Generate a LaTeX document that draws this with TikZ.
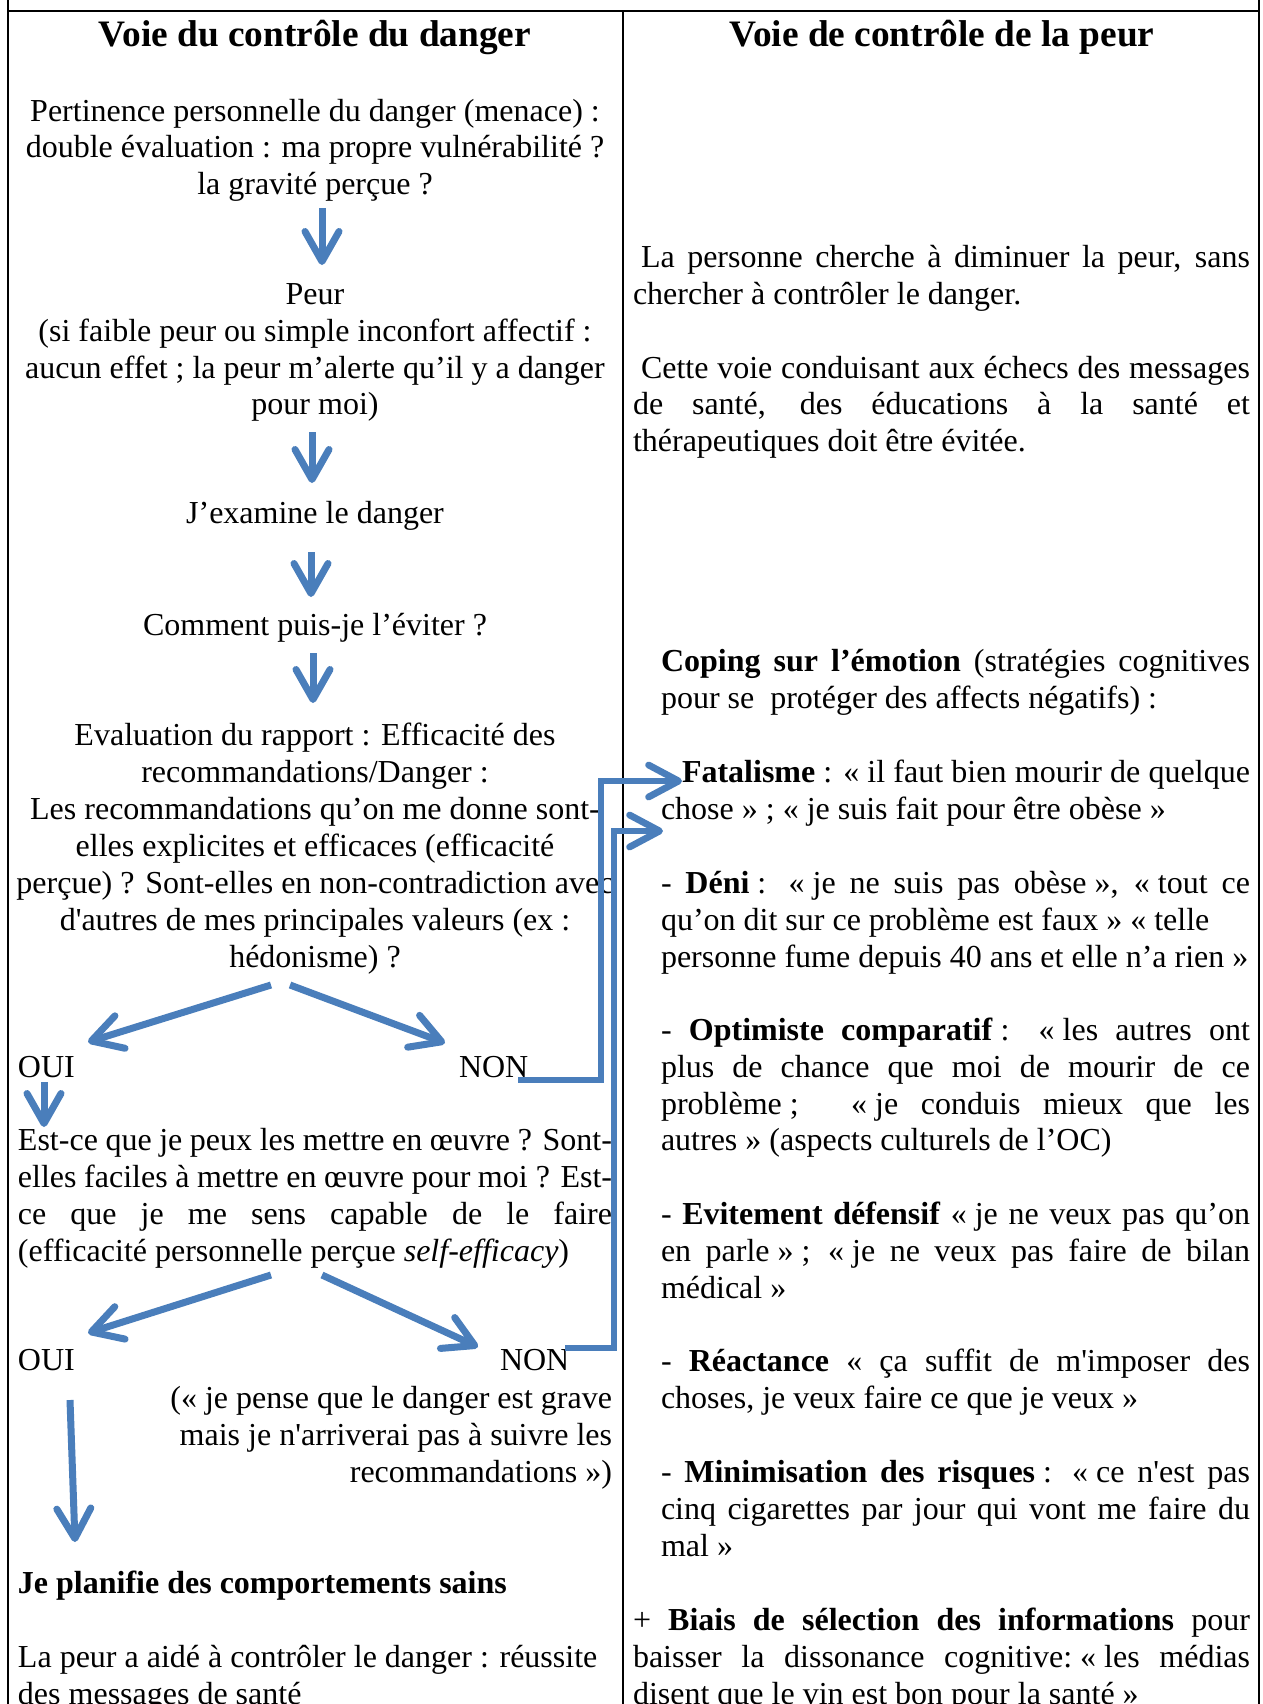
\documentclass[tikz,border=0pt]{standalone}
\usepackage{fontspec}
\setmainfont{Liberation Serif}
\usetikzlibrary{arrows.meta}
\definecolor{ablue}{RGB}{74,126,187}
\newcommand\bodyf{\fontsize{16pt}{18.5pt}\selectfont}
\newcommand\headf{\fontsize{18.67pt}{21pt}\selectfont\bfseries}
\newcommand\fsp{\kern.25em}
\newcommand\sq{\textquotesingle}
\newcommand\jus[2]{\makebox[#1][s]{#2}}
\begin{document}
\begin{tikzpicture}[x=0.5pt,y=-0.5pt,
  txt/.style={inner sep=0pt,outer sep=0pt,font=\bodyf},
  hd/.style={inner sep=0pt,outer sep=0pt,font=\headf,anchor=base},
  cl/.style={txt,anchor=base},
  ll/.style={txt,anchor=base west},
  rl/.style={txt,anchor=base east},
  flow/.style={draw=ablue,line width=3.5pt,-{Straight Barb[length=15pt,width=17pt,round]}},
  conn/.style={draw=ablue,line width=3.4pt,-{Straight Barb[length=15pt,width=16pt,round]}},
  rule/.style={draw=black,line width=1pt}]
\useasboundingbox (0,0) rectangle (1263,1704);
% table frame
\draw[rule] (8,0) -- (8,1704);
\draw[rule] (1259,0) -- (1259,1704);
\draw[rule] (8,11) -- (1259,11);
\draw[rule] (623,11) -- (623,1704);
% headers
\node[hd] (h1) at (315,46) {Voie du contrôle du danger};
\node[hd] (h2) at (942,46) {Voie de contrôle de la peur};
% left column
\node[cl] (c1) at (315,121) {Pertinence personnelle du danger (menace) :};
\node[cl] (c2) at (315,157) {double évaluation : ma propre vulnérabilité ?};
\node[cl] (c3) at (315,194) {la gravité perçue ?};
\node[cl] (c4) at (315,304) {Peur};
\node[cl] (c5) at (315,341) {(si faible peur ou simple inconfort affectif :};
\node[cl] (c6) at (315,378) {aucun effet ; la peur m’alerte qu’il y a danger};
\node[cl] (c7) at (315,414) {pour moi)};
\node[cl] (c8) at (315,523) {J’examine le danger};
\node[cl] (c9) at (315,635) {Comment puis-je l’éviter ?};
\node[cl] (c10) at (315,745) {Evaluation du rapport : Efficacité des};
\node[cl] (c11) at (315,782) {recommandations/Danger :};
\node[cl] (c12) at (315,819) {Les recommandations qu’on me donne sont-};
\node[cl] (c13) at (315,856) {elles explicites et efficaces (efficacité};
\node[cl] (c14) at (315,893) {perçue) ? Sont-elles en non-contradiction avec};
\node[cl] (c15) at (315,930) {d\sq autres de mes principales valeurs (ex :};
\node[cl] (c16) at (315,967) {hédonisme) ?};
\node[ll] (oui1) at (18,1077) {OUI};
\node[ll] (non1) at (459,1077) {NON};
\node[ll] (e1) at (18,1150) {\jus{297pt}{Est-ce que je peux les mettre en œuvre\fsp? Sont-}};
\node[ll] (e2) at (18,1187) {\jus{297pt}{elles faciles à mettre en œuvre pour moi\fsp? Est-}};
\node[ll] (e3) at (18,1224) {\jus{297pt}{ce que je me sens capable de le faire}};
\node[ll] (e4) at (18,1261) {(efficacité personnelle perçue \textit{self-efficacy})};
\node[ll] (oui2) at (18,1370) {OUI};
\node[ll] (non2) at (500,1370) {NON};
\node[rl] (p1) at (612,1408) {(«\fsp je pense que le danger est grave};
\node[rl] (p2) at (612,1445) {mais je n\sq arriverai pas à suivre les};
\node[rl] (p3) at (612,1482) {recommandations\fsp»)};
\node[ll,font=\bodyf\bfseries] (plan) at (18,1593) {Je planifie des comportements sains};
\node[ll] (s1) at (18,1667) {La peur a aidé à contrôler le danger : réussite};
\node[ll] (s2) at (18,1704) {des messages de santé};
% right column
\node[ll] (r1) at (633,267) {\jus{308.5pt}{\hspace*{.25em}La personne cherche à diminuer la peur, sans}};
\node[ll] (r2) at (633,304) {chercher à contrôler le danger.};
\node[ll] (r3) at (633,378) {\jus{308.5pt}{\hspace*{.25em}Cette voie conduisant aux échecs des messages}};
\node[ll] (r4) at (633,414) {\jus{308.5pt}{de santé, des éducations à la santé et}};
\node[ll] (r5) at (633,451) {thérapeutiques doit être évitée.};
\node[ll] (k1) at (661,671) {\jus{294.5pt}{\textbf{Coping sur l’émotion} (stratégies cognitives}};
\node[ll] (k2) at (661,708) {pour se\fsp\ protéger des affects négatifs)\fsp:};
\node[ll] (f1) at (661,782) {\jus{294.5pt}{\hspace*{10.5pt}\textbf{Fatalisme}\fsp: «\fsp il faut bien mourir de quelque}};
\node[ll] (f2) at (661,819) {chose\fsp»\fsp; «\fsp je suis fait pour être obèse\fsp»};
\node[ll] (d1) at (661,893) {\jus{294.5pt}{- \textbf{Déni}\fsp: «\fsp je ne suis pas obèse\fsp», «\fsp tout ce}};
\node[ll] (d2) at (661,930) {qu’on dit sur ce problème est faux\fsp» «\fsp telle};
\node[ll] (d3) at (661,967) {personne fume depuis 40 ans et elle n’a rien\fsp»};
\node[ll] (o1) at (661,1040) {\jus{294.5pt}{- \textbf{Optimiste comparatif}\fsp: «\fsp les autres ont}};
\node[ll] (o2) at (661,1077) {\jus{294.5pt}{plus de chance que moi de mourir de ce}};
\node[ll] (o3) at (661,1114) {\jus{294.5pt}{problème\fsp; \ «\fsp je conduis mieux que les}};
\node[ll] (o4) at (661,1150) {autres\fsp» (aspects culturels de l’OC)};
\node[ll] (v1) at (661,1224) {\jus{294.5pt}{- \textbf{Evitement défensif} «\fsp je ne veux pas qu’on}};
\node[ll] (v2) at (661,1261) {\jus{294.5pt}{en parle\fsp»\fsp; «\fsp je ne veux pas faire de bilan}};
\node[ll] (v3) at (661,1298) {médical\fsp»};
\node[ll] (a1) at (661,1371) {\jus{294.5pt}{- \textbf{Réactance} « ça suffit de m\sq imposer des}};
\node[ll] (a2) at (661,1408) {choses, je veux faire ce que je veux\fsp»};
\node[ll] (m1) at (661,1482) {\jus{294.5pt}{- \textbf{Minimisation des risques}\fsp: «\fsp ce n\sq est pas}};
\node[ll] (m2) at (661,1519) {\jus{294.5pt}{cinq cigarettes par jour qui vont me faire du}};
\node[ll] (m3) at (661,1556) {mal\fsp»};
\node[ll] (b1) at (633,1630) {\jus{308.5pt}{+ \textbf{Biais de sélection des informations} pour}};
\node[ll] (b2) at (633,1667) {\jus{308.5pt}{baisser la dissonance cognitive:\fsp«\fsp les médias}};
\node[ll] (b3) at (633,1704) {disent que le vin est bon pour la santé\fsp»};
% arrow end points
\coordinate (a1s) at (322,208); \coordinate (a1e) at (322,265);
\coordinate (a2s) at (312,432); \coordinate (a2e) at (312,483);
\coordinate (a3s) at (311,552); \coordinate (a3e) at (311,597);
\coordinate (a4s) at (313,653); \coordinate (a4e) at (313,703);
\coordinate (s1l) at (271,985); \coordinate (s1le) at (88,1042);
\coordinate (s1r) at (290,985); \coordinate (s1re) at (445,1043);
\coordinate (sm) at (44,1082); \coordinate (sme) at (44,1127);
\coordinate (s2l) at (271,1275); \coordinate (s2le) at (88,1333);
\coordinate (s2r) at (322,1275); \coordinate (s2re) at (478,1347);
\coordinate (lg) at (70,1400); \coordinate (lge) at (75,1542);
\coordinate (cA0) at (518,1080); \coordinate (cA1) at (601,781); \coordinate (cA2) at (682,781);
\coordinate (cB0) at (565,1348); \coordinate (cB1) at (614,831); \coordinate (cB2) at (663,831);
% flow arrows
\draw[flow] (a1s) -- (a1e);
\draw[flow] (a2s) -- (a2e);
\draw[flow] (a3s) -- (a3e);
\draw[flow] (a4s) -- (a4e);
\draw[flow] (s1l) -- (s1le);
\draw[flow] (s1r) -- (s1re);
\draw[flow] (sm) -- (sme);
\draw[flow] (s2l) -- (s2le);
\draw[flow] (s2r) -- (s2re);
\draw[flow] (lg) -- (lge);
% connectors to the fear-control column
\draw[conn] (cA0) -| (cA1) -- (cA2);
\draw[conn] (cB0) -| (cB1) -- (cB2);
\end{tikzpicture}
\end{document}
